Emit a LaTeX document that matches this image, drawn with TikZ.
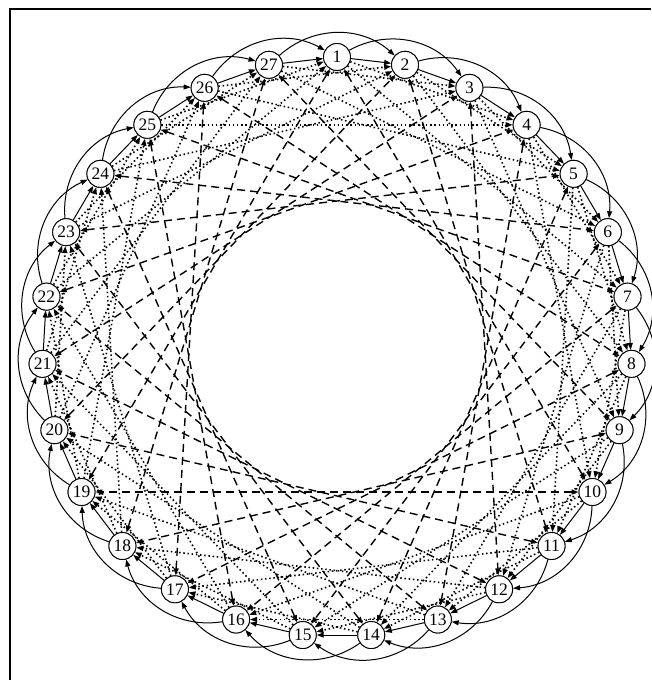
\documentclass[tikz,border=0pt]{standalone}
\usepackage{fontspec}
\setmainfont{Liberation Serif}
\usetikzlibrary{arrows.meta}
\begin{document}
\begin{tikzpicture}[x=1pt,y=1pt,
  vtx/.style={circle,draw,line width=0.9pt,minimum size=27pt,inner sep=0pt,fill=white,font=\fontsize{17.5}{17.5}\selectfont},
  tipA/.style={-{Triangle[length=7pt,width=5pt]}},
  solidedge/.style={line width=1pt,tipA},
  dotedge/.style={line width=1.6pt,dash pattern=on 1.5pt off 2.7pt,tipA},
  dashedge/.style={line width=1.4pt,dash pattern=on 8pt off 5pt,{Triangle[length=7pt,width=5pt]}-{Triangle[length=7pt,width=5pt]}}]
\path[use as bounding box] (0,-680) rectangle (651,0);
\draw[line width=2pt] (10,-680) -- (10,-9) -- (651,-9);
\foreach \k in {1,...,27}{
  \pgfmathsetmacro\ang{90-(\k-1)*360/27}
  \node[vtx] (n\k) at ({337+295*cos(\ang)},{-347+290*sin(\ang)}) {\k};
}
\foreach \i in {1,...,27}{
  \pgfmathtruncatemacro\a{mod(\i,27)+1}
  \pgfmathtruncatemacro\b{mod(\i+1,27)+1}
  \draw[solidedge] (n\i) -- (n\a);
  \draw[solidedge] (n\i) to[bend left=42] (n\b);
  \foreach \s in {3,6}{
    \pgfmathtruncatemacro\t{mod(\i-1+\s,27)+1}
    \draw[dotedge] (n\i) -- (n\t);
  }
  \pgfmathtruncatemacro\t{mod(\i+8,27)+1}
  \draw[dashedge] (n\i) -- (n\t);
}
\foreach \k in {1,...,27}{
  \node[vtx] at (n\k) {\k};
}
\end{tikzpicture}
\end{document}
